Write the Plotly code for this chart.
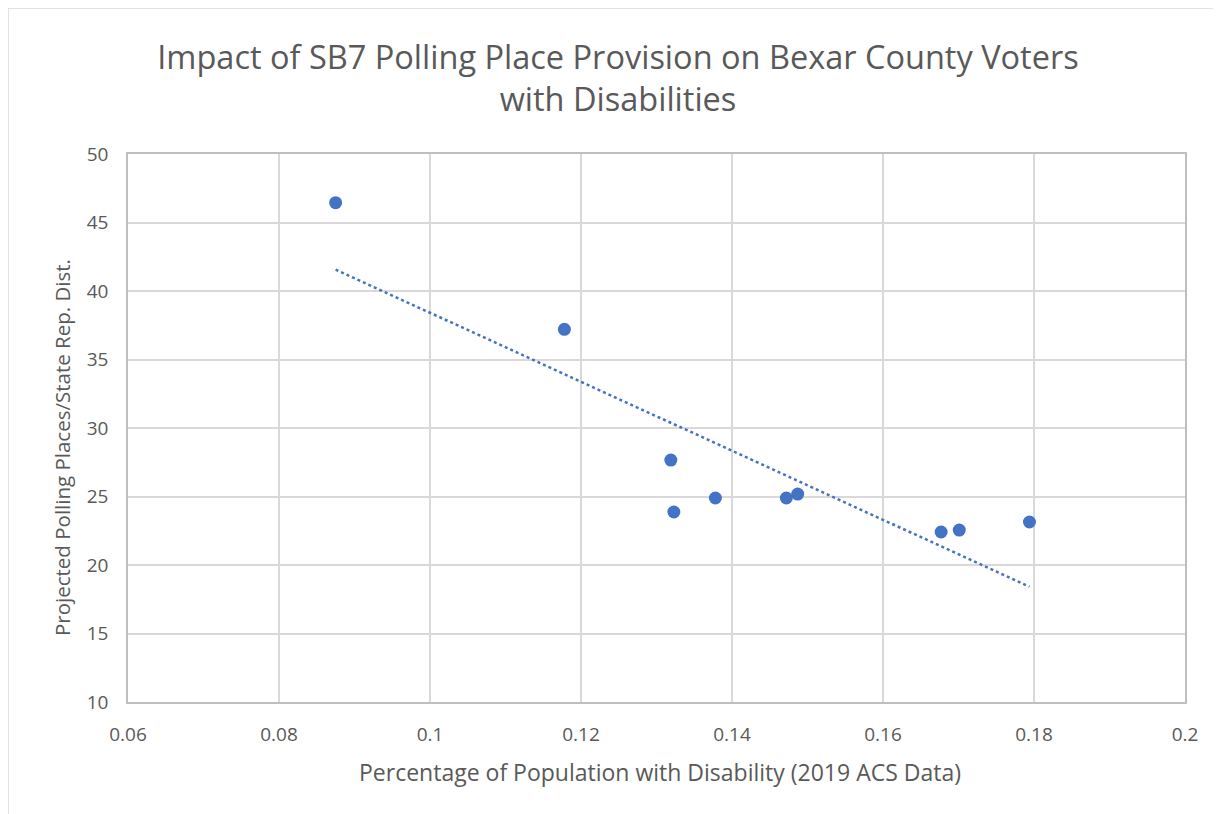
import numpy as np
import plotly.graph_objects as go

disability_pct = [0.0875, 0.1178, 0.1319, 0.1323, 0.1378, 0.1472, 0.1487, 0.1677, 0.1701, 0.1794]
polling_places = [46.45, 37.2, 27.66, 23.87, 24.89, 24.89, 25.18, 22.41, 22.55, 23.14]

x_ticks = [0.06, 0.08, 0.1, 0.12, 0.14, 0.16, 0.18, 0.2]
x_tick_labels = ["0.06", "0.08", "0.1", "0.12", "0.14", "0.16", "0.18", "0.2"]
y_ticks = [10, 15, 20, 25, 30, 35, 40, 45, 50]

title_text = "Impact of SB7 Polling Place Provision on Bexar County Voters<br>with Disabilities"
x_title = "Percentage of Population with Disability (2019 ACS Data)"
y_title = "Projected Polling Places/State Rep. Dist."

BLUE = "#4472C4"
GRAY = "#595959"
FONT = "'Open Sans', sans-serif"

slope, intercept = np.polyfit(disability_pct, polling_places, 1)
trend_x = [min(disability_pct), max(disability_pct)]
trend_y = [slope * v + intercept for v in trend_x]

fig = go.Figure()
fig.add_trace(go.Scatter(x=trend_x, y=trend_y, mode="lines",
                         line=dict(color=BLUE, width=2.5, dash="dot"),
                         showlegend=False, hoverinfo="skip"))
fig.add_trace(go.Scatter(x=disability_pct, y=polling_places, mode="markers",
                         marker=dict(color=BLUE, size=13),
                         showlegend=False))

W, H = 1221, 814
# page body has an 8px offset
L, R, T, B = 120, 44, 146, 120
pw, ph = W - L - R, H - T - B


def px(fx):
    return (fx - L) / pw


def py(fy):
    return 1 - (fy - T) / ph


fig.update_layout(
    width=W, height=H,
    margin=dict(l=L, r=R, t=T, b=B),
    paper_bgcolor="white", plot_bgcolor="white",
    font=dict(family=FONT, color=GRAY, size=19),
    title=dict(text=title_text, x=px(610), xref="paper",
               xanchor="center", y=1 - 61 / H, yanchor="middle",
               font=dict(size=32.5, color=GRAY, family=FONT)),
    xaxis=dict(range=[0.06, 0.2], tickvals=x_ticks, ticktext=x_tick_labels,
               showgrid=True, gridcolor="#D9D9D9", gridwidth=1.5,
               showline=True, linecolor="#BFBFBF", linewidth=1.5, mirror=True,
               zeroline=False, ticks="", ticklabelstandoff=14,
               tickfont=dict(size=19, color=GRAY)),
    yaxis=dict(range=[10, 50], tickvals=y_ticks,
               showgrid=True, gridcolor="#D9D9D9", gridwidth=1.5,
               showline=True, linecolor="#BFBFBF", linewidth=1.5, mirror=True,
               zeroline=False, ticks="", ticklabelstandoff=14,
               tickfont=dict(size=19, color=GRAY)),
    annotations=[
        dict(text=x_title, xref="paper", yref="paper", x=px(652), y=py(764),
             xanchor="center", yanchor="middle", showarrow=False,
             font=dict(size=23, color=GRAY, family=FONT)),
        dict(text=y_title, xref="paper", yref="paper", x=px(54), y=py(440),
             xanchor="center", yanchor="middle", showarrow=False, textangle=-90,
             font=dict(size=20.5, color=GRAY, family=FONT)),
    ],
    shapes=[dict(type="rect", xref="paper", yref="paper",
                 x0=-L / pw, x1=1.2, y0=-0.5, y1=1 + T / ph,
                 line=dict(color="#D9D9D9", width=1.5), layer="below")],
)

fig.write_html("out.html")
